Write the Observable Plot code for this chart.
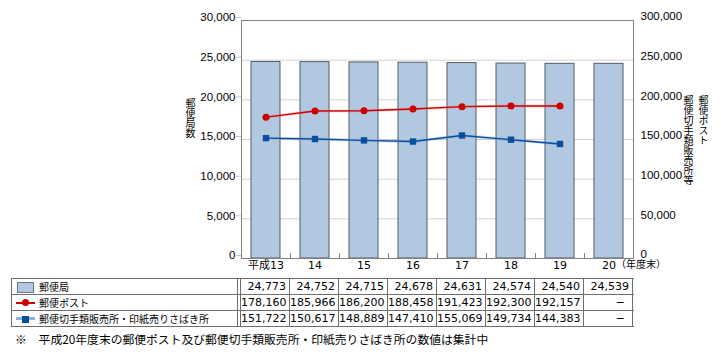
<!DOCTYPE html>
<html><head><meta charset="utf-8">
<script src="https://cdn.jsdelivr.net/npm/d3@7"></script>
<script src="https://cdn.jsdelivr.net/npm/@observablehq/plot@0.6"></script>
<style>
body{margin:0;background:#fff;}
#wrap{position:relative;width:721px;height:356px;overflow:hidden;font-family:"Noto Sans CJK JP",sans-serif;color:#000;}
#wrap svg{position:absolute;left:0;top:0;}
.a{position:absolute;box-sizing:border-box;white-space:nowrap;}
.v{position:absolute;writing-mode:vertical-rl;text-orientation:upright;font-size:10px;line-height:10px;letter-spacing:0;}
</style></head><body><div id="wrap"></div>
<script>
// ---- data ----
const cats = ["平成13","14","15","16","17","18","19","20"];
const xUnit = "（年度末）";
const offices = [24773,24752,24715,24678,24631,24574,24540,24539];
const posts = [178160,185966,186200,188458,191423,192300,192157,null];
const stamps = [151722,150617,148889,147410,155069,149734,144383,null];
const seriesNames = ["郵便局","郵便ポスト","郵便切手類販売所・印紙売りさばき所"];
const leftTitle = "郵便局数";
const rightTitles = ["郵便切手類販売所等","郵便ポスト"];
const leftTicks = [0,5000,10000,15000,20000,25000,30000];
const rightFactor = 10; // right axis 0–300,000
const note = "※　平成20年度末の郵便ポスト及び郵便切手類販売所・印紙売りさばき所の数値は集計中";

// ---- build ----
const rows = cats.map((c,i)=>({cat:c, offices:offices[i], posts:posts[i], stamps:stamps[i]}));
const fmt = d3.format(",");
const RED = "#cc0000", BLUE = "#0a4f9e", BAR = "#b1c8e0", BARS = "#525c68", AX = "#808080";
const postRows = rows.filter(d=>d.posts!=null), stampRows = rows.filter(d=>d.stamps!=null);

const chart = Plot.plot({
  width:721, height:275, marginLeft:241, marginRight:88, marginTop:20, marginBottom:17,
  style:{fontFamily:'"Liberation Sans", sans-serif', fontSize:"11.5px", background:"transparent", color:"#000", overflow:"visible"},
  x:{domain:cats, paddingInner:0.4, paddingOuter:0.2, axis:null},
  y:{domain:[0,30000], axis:null},
  marks:[
    Plot.ruleY(leftTicks.filter(t=>t>0 && t<30000), {stroke:"#d2d2d2"}),
    Plot.axisY(leftTicks, {anchor:"left", tickSize:5, tickPadding:1, stroke:"#c8c8c8", fill:"#000", tickFormat:fmt, dy:-3, label:null}),
    Plot.axisY(leftTicks, {anchor:"right", tickSize:0, tickPadding:7, fill:"#000", tickFormat:d=>fmt(d*rightFactor), dy:-4, label:null}),
    Plot.barY(rows, {x:"cat", y:"offices", fill:BAR, stroke:BARS, strokeWidth:1}),
    Plot.ruleX(cats.slice(1), {x:d=>d, dx:-24.5, y1:0, y2:630, stroke:AX}),
    Plot.frame({stroke:AX}),
    Plot.line(postRows, {x:"cat", y:d=>d.posts/rightFactor, stroke:"#e88080", strokeWidth:3, strokeOpacity:0.35}),
    Plot.line(postRows, {x:"cat", y:d=>d.posts/rightFactor, stroke:RED, strokeWidth:1.4}),
    Plot.dot(postRows, {x:"cat", y:d=>d.posts/rightFactor, r:3.5, fill:RED}),
    Plot.line(stampRows, {x:"cat", y:d=>d.stamps/rightFactor, stroke:"#6f9ad0", strokeWidth:3, strokeOpacity:0.35}),
    Plot.line(stampRows, {x:"cat", y:d=>d.stamps/rightFactor, stroke:BLUE, strokeWidth:1.4}),
    Plot.dot(stampRows, {x:"cat", y:d=>d.stamps/rightFactor, r:3.6, symbol:"square", fill:BLUE}),
    Plot.axisX({tickSize:0, tickPadding:3, fontFamily:'"DejaVu Sans","Noto Sans CJK JP",sans-serif', fontSize:11, fill:"#000", label:null}),
    Plot.text([cats[cats.length-1]], {x:d=>d, text:()=>xUnit, frameAnchor:"bottom", dy:9, dx:7, textAnchor:"start", fontFamily:'"Noto Sans CJK JP",sans-serif', fontSize:10, fill:"#000"})
  ]
});
const wrap = document.getElementById("wrap");
wrap.appendChild(chart);

// ---- vertical axis titles ----
function vtitle(txt, cx, top){const d=document.createElement("div");d.className="v";d.style.left=(cx-5)+"px";d.style.top=top+"px";d.textContent=txt;wrap.appendChild(d);}
vtitle(leftTitle, 190, 98);
vtitle(rightTitles[0], 688, 95);
vtitle(rightTitles[1], 703, 95);

// ---- data table (HTML, columns from the Plot x scale) ----
const xs = chart.scale("x");
const gap = (xs.step - xs.bandwidth)/2;
const edges = cats.map(c => xs.apply(c) - gap);
edges.push(edges[edges.length-1] + xs.step);
const tTop = 278, rh = 16, tLeft = 11, tRight = edges[edges.length-1];
const LC = "#6e6e6e";
function box(x,y,w,h,css){const d=document.createElement("div");d.className="a";Object.assign(d.style,{left:x+"px",top:y+"px",width:w+"px",height:h+"px"},css||{});wrap.appendChild(d);return d;}
for(let r=0;r<=3;r++) box(tLeft, tTop+r*rh, tRight-tLeft+1, 1, {background:LC});
box(tLeft, tTop, 1, rh*3+1, {background:LC});
box(237, tTop, 1, rh*3+1, {background:LC});
edges.forEach(e=>box(Math.round(e)-1, tTop, 1, rh*3+1, {background:LC}));
const series = [offices, posts, stamps];
series.forEach((vals,r)=>{
  vals.forEach((v,j)=>{
    const d = box(edges[j], tTop+r*rh, xs.step-1, rh+1, {textAlign:"right", paddingRight:(v==null?7:3)+"px", fontFamily:'"DejaVu Sans","Noto Sans CJK JP",sans-serif', fontSize:"11px", lineHeight:(rh+1)+"px"});
    d.textContent = v==null ? "−" : fmt(v);
  });
  const lab = box(39, tTop+r*rh, 195, rh+1, {fontSize:"10px", lineHeight:(rh+1)+"px"});
  lab.textContent = seriesNames[r];
});
// legend keys
box(17, 282, 17, 11, {background:BAR, border:"1px solid #6a7686"});
box(16, tTop+rh+8, 19, 1.5, {background:RED});
box(22, tTop+rh+5, 7, 7, {background:RED, borderRadius:"50%"});
box(16, tTop+2*rh+7, 19, 3, {background:"#8fb2dc"});
box(22, tTop+2*rh+5.5, 7, 7, {background:BLUE});
// footnote
const fn = box(15, 331, 700, 15, {fontSize:"11.8px", lineHeight:"15px"});
fn.textContent = note;
</script></body></html>
